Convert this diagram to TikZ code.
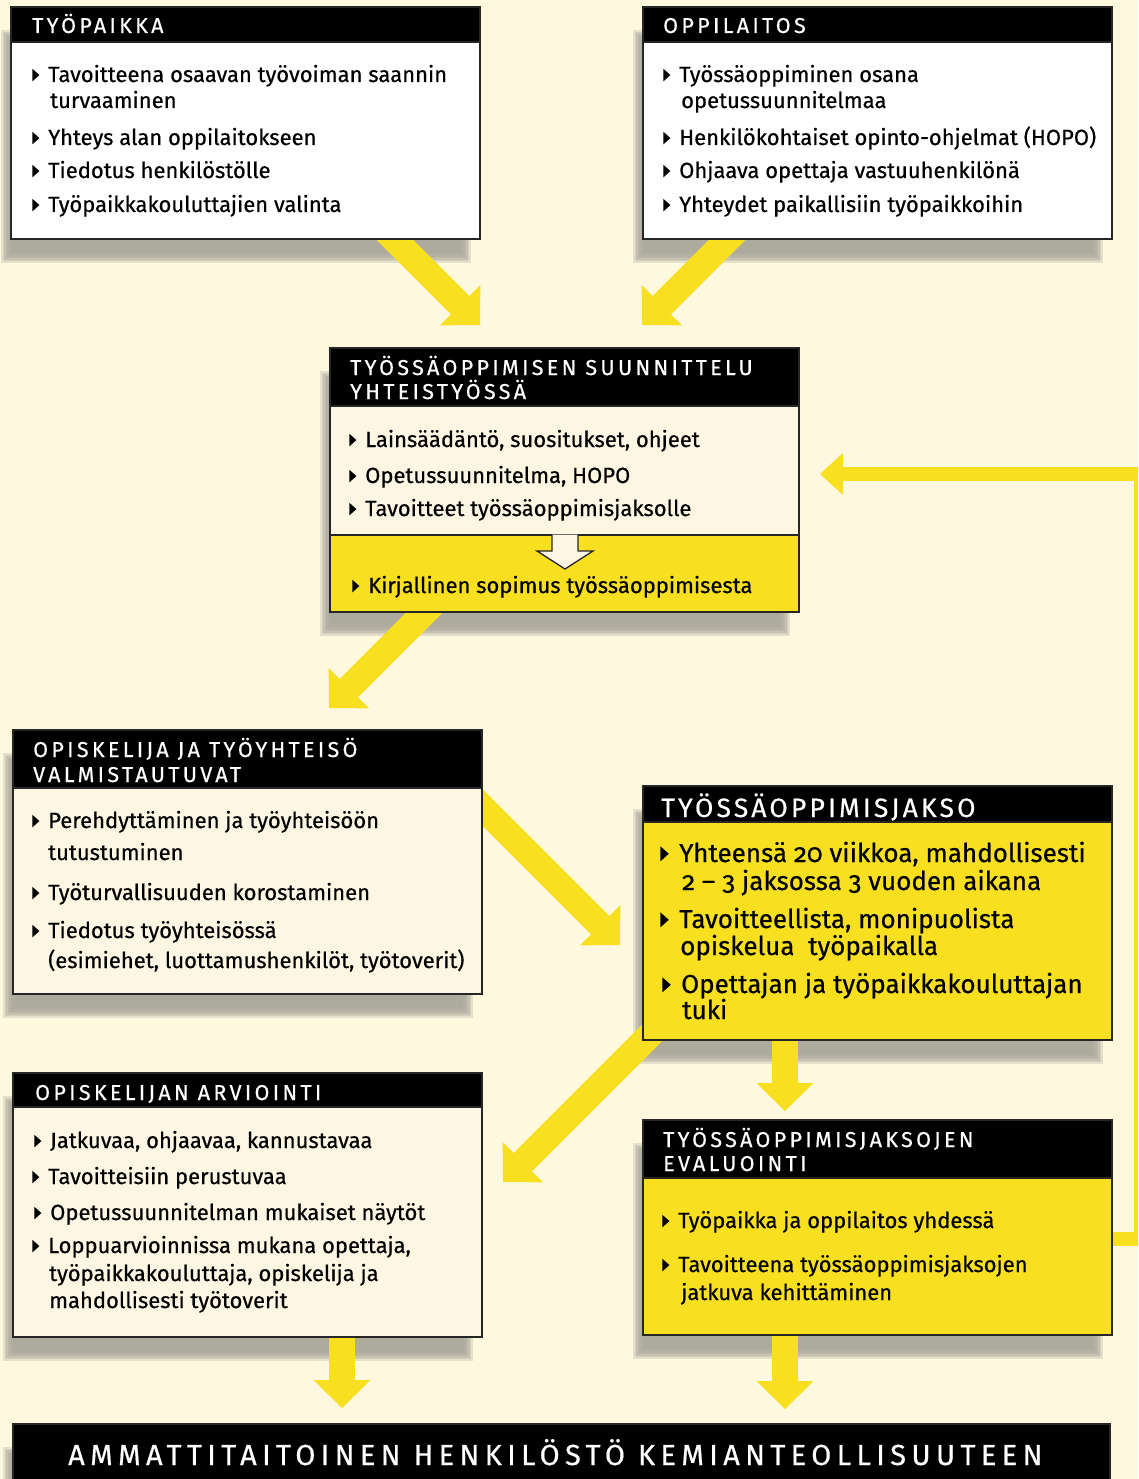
\documentclass[tikz,border=0pt]{standalone}
\usepackage{fontspec}
\setmainfont{Fira Sans}[FakeBold=0.5]
\newfontfamily\hdfont[LetterSpace=15.5,FakeBold=0.5]{Fira Sans}
\newfontfamily\hdbigfont[LetterSpace=12,FakeBold=0.5]{Fira Sans}
\newfontfamily\endfont[LetterSpace=18.5,FakeBold=0.5]{Fira Sans}
\newfontfamily\bigfont[Numbers=OldStyle,FakeBold=0.5]{Fira Sans}
\usetikzlibrary{arrows.meta}

\definecolor{bgcream}{HTML}{FEF8DF}
\definecolor{boxcream}{HTML}{FDF6E3}
\definecolor{ylw}{HTML}{F8DF20}
\definecolor{shadowgray}{HTML}{A5A298}

% small black triangle in front of an item
\newcommand\bul{\llap{\tikz[baseline=0pt]\fill (0,.03em) -- (0,.6em) -- (.32em,.315em) -- cycle;\hspace{.4em}}}

\tikzset{
  box/.style={draw=black!85, line width=1.3pt, anchor=north west, inner sep=0pt, outer sep=0pt},
  hdbox/.style={box, fill=black},
  hdtext/.style={anchor=base west, inner sep=0pt, text=white, font=\hdfont\fontsize{21.5}{24}\selectfont},
  item/.style={anchor=base west, inner sep=0pt, font=\fontsize{22}{26}\selectfont},
  bigitem/.style={anchor=base west, inner sep=0pt, font=\bigfont\fontsize{26}{30}\selectfont},
  yarrow/.style={draw=ylw, line width=26pt, -{Triangle[length=28pt,width=57pt,line width=0pt]}},
  fbarrow/.style={draw=ylw, line width=14pt, -{Triangle[length=23pt,width=42pt,line width=0pt]}}
}

\begin{document}
\begin{tikzpicture}[x=1pt,y=-1pt]
\useasboundingbox (0,0) rectangle (1138,1479);
\fill[bgcream] (0,0) rectangle (1138,1479);
\clip (0,0) rectangle (1138,1479);

% Soft shadows behind the boxes
\foreach \xa/\ya/\xb/\yb in {11/7/480/239, 643/7/1112/239, 330/348/799/612,
    13/730/482/994, 643/786/1112/1040, 13/1073/482/1337, 643/1120/1112/1335,
    13/1424/1110/1500}
  \foreach \i in {0,...,6}
    \fill[shadowgray, opacity=.27] (\xa-10+\i*1.6,\ya+23+\i*1.6) rectangle (\xb-9-\i*1.6,\yb+24-\i*1.6);

% Ends of the arrows
\coordinate (a1s) at (385,230);  \coordinate (a1e) at (480,325);
\coordinate (a2s) at (742,225);  \coordinate (a2e) at (642,325);
\coordinate (a3s) at (434,603);  \coordinate (a3e) at (329,708);
\coordinate (a4s) at (470,795);  \coordinate (a4e) at (620,945);
\coordinate (a5s) at (663,1022); \coordinate (a5e) at (503,1182);
\coordinate (a6s) at (785,1030); \coordinate (a6e) at (785,1111);
\coordinate (a7s) at (342,1330); \coordinate (a7e) at (342,1408);
\coordinate (a8s) at (785,1328); \coordinate (a8e) at (785,1409);
\coordinate (fb0) at (1100,1239);
\coordinate (fb1) at (1141,1239);
\coordinate (fb2) at (1141,474);
\coordinate (fb3) at (820,474);

% Yellow arrows
\draw[yarrow] (a1s) -- (a1e);
\draw[yarrow] (a2s) -- (a2e);
\draw[yarrow] (a3s) -- (a3e);
\draw[yarrow] (a4s) -- (a4e);
\draw[yarrow] (a5s) -- (a5e);
\draw[yarrow] (a6s) -- (a6e);
\draw[yarrow] (a7s) -- (a7e);
\draw[yarrow] (a8s) -- (a8e);
\draw[fbarrow] (fb0) -- (fb1) -- (fb2) -- (fb3);

% Box bodies
\node[box, fill=white, minimum width=469, minimum height=232] (tp) at (11,7) {};
\node[box, fill=white, minimum width=469, minimum height=232] (ol) at (643,7) {};
\node[box, fill=boxcream, minimum width=469, minimum height=129] (su) at (330,406) {};
\node[box, fill=ylw, minimum width=469, minimum height=77] (sk) at (330,535) {};
\node[box, fill=boxcream, minimum width=469, minimum height=206] (ov) at (13,788) {};
\node[box, fill=ylw, minimum width=469, minimum height=218] (tj) at (643,822) {};
\node[box, fill=boxcream, minimum width=469, minimum height=230] (ar) at (13,1107) {};
\node[box, fill=ylw, minimum width=469, minimum height=157] (ev) at (643,1178) {};

% Headers
\node[hdbox, minimum width=469, minimum height=35] (tph) at (11,7) {};
\node[hdbox, minimum width=469, minimum height=35] (olh) at (643,7) {};
\node[hdbox, minimum width=469, minimum height=58] (suh) at (330,348) {};
\node[hdbox, minimum width=469, minimum height=58] (ovh) at (13,730) {};
\node[hdbox, minimum width=469, minimum height=36] (tjh) at (643,786) {};
\node[hdbox, minimum width=469, minimum height=34] (arh) at (13,1073) {};
\node[hdbox, minimum width=469, minimum height=58] (evh) at (643,1120) {};
\node[hdbox, minimum width=1097, minimum height=70] (loppu) at (13,1424) {};

% Hollow arrow between the planning parts
\filldraw[fill=boxcream, draw=black!85, line width=1.3pt, line join=miter]
  (552,534.5) -- (552,551) -- (537,551) -- (565,569) -- (593,551) -- (578,551) -- (578,534.5);

% Header texts
\node[hdtext] (tph-t) at (32,33) {TYÖPAIKKA};
\node[hdtext] (olh-t) at (663,33) {OPPILAITOS};
\node[hdtext] (suh-t1) at (350,375) {TYÖSSÄOPPIMISEN SUUNNITTELU};
\node[hdtext] (suh-t2) at (350,399) {YHTEISTYÖSSÄ};
\node[hdtext] (ovh-t1) at (33,757) {OPISKELIJA JA TYÖYHTEISÖ};
\node[hdtext] (ovh-t2) at (33,782) {VALMISTAUTUVAT};
\node[hdtext, font=\hdbigfont\fontsize{26.5}{30}\selectfont] (tjh-t) at (661,817) {TYÖSSÄOPPIMISJAKSO};
\node[hdtext] (arh-t) at (35,1100) {OPISKELIJAN ARVIOINTI};
\node[hdtext] (evh-t1) at (663,1147) {TYÖSSÄOPPIMISJAKSOJEN};
\node[hdtext] (evh-t2) at (663,1171) {EVALUOINTI};
\node[hdtext, font=\endfont\fontsize{29}{34}\selectfont] (loppu-t) at (68,1465)
  {AMMATTITAITOINEN HENKILÖSTÖ KEMIANTEOLLISUUTEEN};

% Item texts
\foreach \xx/\yy/\txt [count=\i] in {48/82/{\bul Tavoitteena osaavan työvoiman saannin},
    50/108/{turvaaminen}, 48/145/{\bul Yhteys alan oppilaitokseen},
    48/178/{\bul Tiedotus henkilöstölle}, 48/212/{\bul Työpaikkakouluttajien valinta}}
  \node[item] (tp-\i) at (\xx,\yy) {\txt};
\foreach \xx/\yy/\txt [count=\i] in {679/82/{\bul Työssäoppiminen osana},
    681/108/{opetussuunnitelmaa}, 679/145/{\bul Henkilökohtaiset opinto-ohjelmat (HOPO)},
    679/178/{\bul Ohjaava opettaja vastuuhenkilönä}, 679/212/{\bul Yhteydet paikallisiin työpaikkoihin}}
  \node[item] (ol-\i) at (\xx,\yy) {\txt};
\foreach \xx/\yy/\txt [count=\i] in {365/447/{\bul Lainsäädäntö, suositukset, ohjeet},
    365/483/{\bul Opetussuunnitelma, HOPO}, 365/516/{\bul Tavoitteet työssäoppimisjaksolle},
    368/593/{\bul Kirjallinen sopimus työssäoppimisesta}}
  \node[item] (su-\i) at (\xx,\yy) {\txt};
\foreach \xx/\yy/\txt [count=\i] in {48/828/{\bul Perehdyttäminen ja työyhteisöön},
    48/860/{tutustuminen}, 48/900/{\bul Työturvallisuuden korostaminen},
    48/938/{\bul Tiedotus työyhteisössä}, 48/968/{(esimiehet, luottamushenkilöt, työtoverit)}}
  \node[item] (ov-\i) at (\xx,\yy) {\txt};
\foreach \xx/\yy/\txt [count=\i] in {679/862/{\bul Yhteensä 20 viikkoa, mahdollisesti},
    682/890/{2 – 3 jaksossa 3 vuoden aikana}, 679/928/{\bul Tavoitteellista, monipuolista},
    680/955/{opiskelua \ työpaikalla}, 681/993/{\bul Opettajan ja työpaikkakouluttajan},
    682/1019/{tuki}}
  \node[bigitem] (tj-\i) at (\xx,\yy) {\txt};
\foreach \xx/\yy/\txt [count=\i] in {50/1148/{\bul Jatkuvaa, ohjaavaa, kannustavaa},
    48/1184/{\bul Tavoitteisiin perustuvaa}, 50/1220/{\bul Opetussuunnitelman mukaiset näytöt},
    48/1253/{\bul Loppuarvioinnissa mukana opettaja,}, 49/1281/{työpaikkakouluttaja, opiskelija ja},
    49/1308/{mahdollisesti työtoverit}}
  \node[item] (ar-\i) at (\xx,\yy) {\txt};
\foreach \xx/\yy/\txt [count=\i] in {678/1228/{\bul Työpaikka ja oppilaitos yhdessä},
    678/1272/{\bul Tavoitteena työssäoppimisjaksojen}, 681/1300/{jatkuva kehittäminen}}
  \node[item] (ev-\i) at (\xx,\yy) {\txt};
\end{tikzpicture}
\end{document}
